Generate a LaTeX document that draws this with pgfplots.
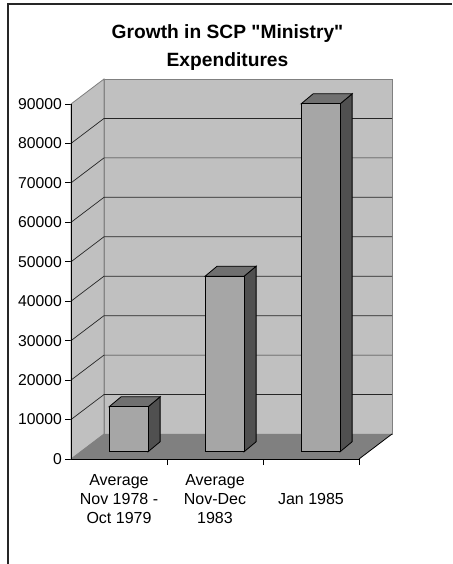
\documentclass[border=0pt]{standalone}
\usepackage{pgfplots}
\pgfplotsset{compat=1.18}
\usepackage{pgfplotstable}
\usepackage{fontspec}
\setmainfont{Liberation Sans}
\newfontfamily\titlefont[Ligatures=TeXOff]{Liberation Sans}
\definecolor{wallg}{RGB}{192,192,192}
\definecolor{floorg}{RGB}{128,128,128}
\definecolor{edgeg}{RGB}{128,128,128}
\definecolor{frontg}{RGB}{166,166,166}
\definecolor{topg}{RGB}{112,112,112}
\definecolor{sideg}{RGB}{80,80,80}
\pgfplotstableread{
x v
48 11400
144 44500
240 88200
}\bars
\begin{document}
\begin{tikzpicture}
\useasboundingbox (0,0) rectangle (452pt,-564pt);
\draw[line width=1.2pt, black!85] (8pt,-564pt) -- (8pt,-4pt) -- (452pt,-4pt);
\node[font=\titlefont\fontsize{19.2}{23}\selectfont\bfseries, anchor=base, inner sep=0pt] at (227.5pt,-38.3pt) {Growth in SCP "Ministry"};
\node[font=\titlefont\fontsize{19.2}{23}\selectfont\bfseries, anchor=base, inner sep=0pt] at (227.5pt,-66.5pt) {Expenditures};
\begin{axis}[
  at={(71pt,-459pt)}, anchor=south west,
  scale only axis, width=321pt, height=380pt,
  xmin=0, xmax=321, ymin=0, ymax=96340,
  clip=false,
  axis x line*=bottom, axis y line*=left,
  axis line style={draw=none},
  tick align=outside,
  major tick length=6pt,
  tick style={black, line width=0.8pt},
  ytick={0,10000,...,90000},
  scaled y ticks=false,
  /pgf/number format/1000 sep={},
  /pgf/number format/assume math mode=true,
  yticklabel style={font=\fontsize{15.7}{18}\selectfont, inner sep=0pt, xshift=-3pt},
  xtick={96,192,288}, xticklabels={},
  extra x ticks={48,144,240},
  extra x tick labels={{Average\\Nov 1978 -\\Oct 1979},{Average\\Nov-Dec\\1983},{Jan 1985}},
  extra x tick style={major tick length=0pt,
    xticklabel style={align=center, anchor=center, yshift=-40pt, inner sep=0pt,
      font=\fontsize{16}{19.3}\selectfont}},
]
% walls
\addplot[fill=wallg, draw=edgeg, line width=0.8pt] coordinates {(33,6340) (321,6340) (321,96340) (33,96340)} -- cycle;
\addplot[fill=wallg, draw=edgeg, line width=0.8pt] coordinates {(0,0) (33,6340) (33,96340) (0,90000)} -- cycle;
% gridlines
\addplot[black!85, line width=0.7pt] coordinates {(0,10000) (33,16340) (321,16340)};
\addplot[black!85, line width=0.7pt] coordinates {(0,20000) (33,26340) (321,26340)};
\addplot[black!85, line width=0.7pt] coordinates {(0,30000) (33,36340) (321,36340)};
\addplot[black!85, line width=0.7pt] coordinates {(0,40000) (33,46340) (321,46340)};
\addplot[black!85, line width=0.7pt] coordinates {(0,50000) (33,56340) (321,56340)};
\addplot[black!85, line width=0.7pt] coordinates {(0,60000) (33,66340) (321,66340)};
\addplot[black!85, line width=0.7pt] coordinates {(0,70000) (33,76340) (321,76340)};
\addplot[black!85, line width=0.7pt] coordinates {(0,80000) (33,86340) (321,86340)};
% floor
\addplot[fill=floorg, draw=none] coordinates {(0,0) (288,0) (321,6340) (33,6340)} -- cycle;
\addplot[black, line width=0.8pt] coordinates {(288,0) (321,6340)};
\addplot[black, line width=1pt] coordinates {(0,90000) (0,0) (288,0)};
% bars: side faces
\addplot[fill=sideg, draw=black, line width=0.8pt] coordinates {(77.1,1840) (89.1,4375) (89.1,15775) (77.1,13240)} -- cycle;
\addplot[fill=sideg, draw=black, line width=0.8pt] coordinates {(173.1,1840) (185.1,4375) (185.1,48875) (173.1,46340)} -- cycle;
\addplot[fill=sideg, draw=black, line width=0.8pt] coordinates {(269.1,1840) (281.1,4375) (281.1,92575) (269.1,90040)} -- cycle;
% bars: top faces
\addplot[fill=topg, draw=black, line width=0.8pt] coordinates {(38.1,13240) (77.1,13240) (89.1,15775) (50.1,15775)} -- cycle;
\addplot[fill=topg, draw=black, line width=0.8pt] coordinates {(134.1,46340) (173.1,46340) (185.1,48875) (146.1,48875)} -- cycle;
\addplot[fill=topg, draw=black, line width=0.8pt] coordinates {(230.1,90040) (269.1,90040) (281.1,92575) (242.1,92575)} -- cycle;
% bars: front faces
\addplot[ybar, bar width=39, bar shift=9.6, yshift=7.2575pt, fill=frontg, draw=black, line width=0.8pt] table[x=x, y=v] {\bars};
\end{axis}
\end{tikzpicture}
\end{document}
